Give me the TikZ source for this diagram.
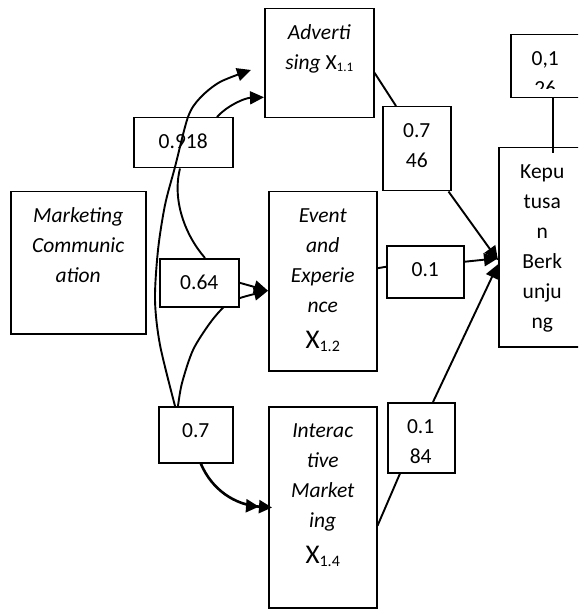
\documentclass[tikz,border=0pt]{standalone}
\usepackage{fontspec}
\setmainfont{Carlito}
\usetikzlibrary{arrows.meta,calc,backgrounds}
\newcommand{\boxtxt}[3]{\begin{minipage}[c][#2][t]{#1}\centering\fontsize{21.5pt}{30pt}\selectfont\lineskiplimit=-100pt\lineskip=0pt\vspace*{10pt}\strut #3\end{minipage}}
\newcommand{\bigX}[1]{{\fontsize{27pt}{30pt}\selectfont X}{\fontsize{16pt}{20pt}\selectfont\raisebox{-3pt}{#1}}}
\newcommand{\smallX}[1]{X{\fontsize{13pt}{16pt}\selectfont\raisebox{-2pt}{#1}}}
\tikzset{
  bx/.style={draw, line width=1.5pt, fill=white, inner sep=0pt, anchor=north west},
  txtnode/.style={inner sep=0pt, anchor=north west},
  conn/.style={line width=1.9pt},
  arr/.style={conn, -{Triangle[length=14pt,width=13pt]}},
  darr/.style={line width=2.6pt, -{Triangle[length=13pt,width=13pt]Triangle[length=13pt,width=13pt,sep=-4pt]}},
}
\begin{document}
\begin{tikzpicture}[x=1pt,y=-1pt]
\useasboundingbox (0,0) rectangle (578,609);
\clip (0,0) rectangle (578,609);
% boxes
\node[bx] (mc) at (10,191) {\boxtxt{135pt}{142pt}{\itshape Marketing\\Communic\\ation}};
\node[bx] (adv) at (264,8) {\boxtxt{109pt}{109pt}{\itshape Adverti\\sing \upshape\smallX{1.1}}};
\node[bx] (ev) at (268,191) {\boxtxt{108pt}{179pt}{\itshape Event\\and\\Experie\\nce\\[6pt]\upshape\bigX{1.2}}};
\node[bx] (im) at (268,406) {\boxtxt{108pt}{201pt}{\itshape Interac\\tive\\Market\\ing\\[6pt]\upshape\bigX{1.4}}};
\node[bx] (kep) at (498,147) {\boxtxt{87pt}{199pt}{Kepu\\tusa\\n\\Berk\\unju\\ng}};
\node[bx] (b918) at (133,117) {\boxtxt{99pt}{50pt}{0.918}};
\node[bx] (b64) at (159,258) {\boxtxt{79pt}{48pt}{0.64}};
\node[bx] (b7) at (158,406) {\boxtxt{74pt}{56pt}{0.7}};
\node[bx] (b746) at (382,106) {\boxtxt{68pt}{84pt}{0.7\\46}};
\node[bx] (b1) at (386,245) {\boxtxt{77pt}{52pt}{0.1}};
\node[bx, minimum width=70pt, minimum height=63pt] (b126) at (510,34) {};
\node[bx, minimum width=67pt, minimum height=70pt] (b184) at (387,402) {};
\begin{scope}
  \clip (b126.north west) rectangle ($(b126.south east)+(0,-10)$);
  \node[txtnode] (t126) at (b126.north west) {\boxtxt{70pt}{63pt}{0,1\\26}};
\end{scope}
\begin{scope}
  \clip (b184.north west) rectangle ($(b184.south east)+(0,-10)$);
  \node[txtnode] (t184) at (b184.north west) {\boxtxt{67pt}{70pt}{0.1\\84}};
\end{scope}
% hidden curve behind 0.64 box
\begin{pgfonlayer}{background}
  \draw[arr] plot[smooth] coordinates {($(b7.north west)+(20,0)$) (182,383) (193,350) (210,323) (225,306) (240,298) ([yshift=-9.5pt]ev.west)};
\end{pgfonlayer}
% free end of the long arrow
\coordinate (advtip) at (251,70);
\draw[arr] plot[smooth] coordinates {($(b7.north west)+(17,0)$) (160,345) (155,300) (158,250) (165,205) (175,167) (188,117) (200,98) (220,82) (advtip)};
\draw[arr] ($(b918.north west)+(84,0)$) .. controls (228,105) and (245,98) .. ([yshift=-34pt]adv.west);
\draw[conn] ($(b64.north west)+(46,0)$) .. controls (185,235) and (172,200) .. ($(b918.south west)+(47,0)$);
\draw[arr] (b64.east) -- ([yshift=-9.5pt]ev.west);
\draw[darr] ($(b7.south)+(5,0)$) .. controls (212,490) and (235,505) .. (im.west);
% right side
\draw[conn] ([yshift=-9.5pt]adv.east) -- ($(b746.north west)+(14,0)$);
\draw[arr] ($(b746.south east)+(-3,0)$) -- ([yshift=-13pt]kep.west);
\draw[conn] ([yshift=13pt]ev.east) -- ([yshift=5pt]b1.west);
\draw[arr] ([yshift=10pt]b1.east) -- ([yshift=-11pt]kep.west);
\draw[conn] ([yshift=-18.5pt]im.east) -- ($(b184.south west)+(13,0)$);
\draw[arr] ($(b184.north west)+(46,0)$) -- ([yshift=-17pt]kep.west);
\draw[conn] ($(b126.south west)+(43,0)$) -- ($(kep.north west)+(55,6)$);
\end{tikzpicture}
\end{document}
